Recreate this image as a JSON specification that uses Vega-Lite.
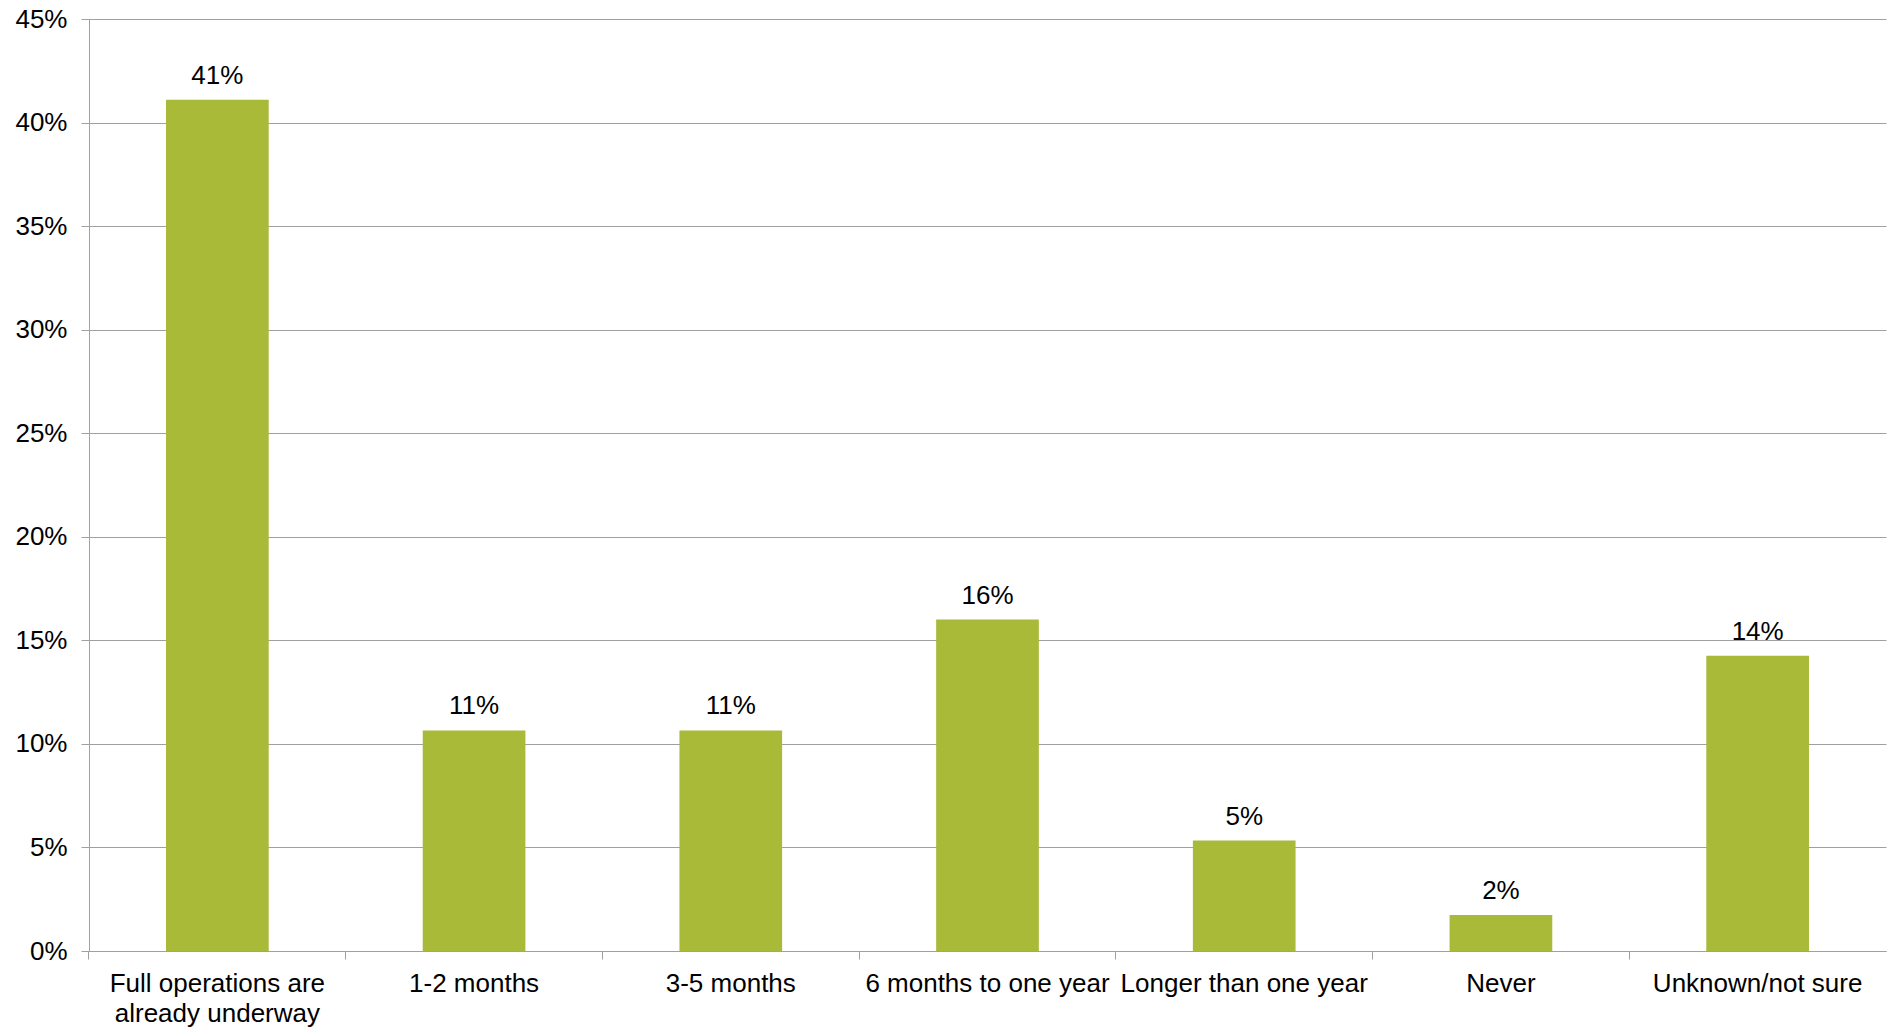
{
  "$schema": "https://vega.github.io/schema/vega-lite/v6.json",
  "width": 1797,
  "height": 932,
  "autosize": {"type": "none"},
  "padding": {"left": 89, "top": 19, "right": 4, "bottom": 78},
  "background": "white",
  "config": {"view": {"stroke": null}, "font": "Liberation Sans"},
  "data": {
    "values": [
      {"cat": "Full operations are already underway", "v": 0.411, "lbl": "41%"},
      {"cat": "1-2 months", "v": 0.1065, "lbl": "11%"},
      {"cat": "3-5 months", "v": 0.1065, "lbl": "11%"},
      {"cat": "6 months to one year", "v": 0.160, "lbl": "16%"},
      {"cat": "Longer than one year", "v": 0.0533, "lbl": "5%"},
      {"cat": "Never", "v": 0.0174, "lbl": "2%"},
      {"cat": "Unknown/not sure", "v": 0.1426, "lbl": "14%"}
    ]
  },
  "encoding": {
    "x": {
      "field": "cat", "type": "nominal", "sort": null,
      "scale": {"paddingInner": 0.6, "paddingOuter": 0.3},
      "axis": {
        "title": null, "labelAngle": 0, "labelFontSize": 26, "labelColor": "#000000",
        "labelPadding": 11, "labelLineHeight": 30, "labelFont": "Liberation Sans",
        "domainColor": "#a0a0a0", "tickColor": "#a0a0a0", "tickSize": 8,
        "bandPosition": -0.75, "labelLimit": 0,
        "labelExpr": "datum.value == 'Full operations are already underway' ? ['Full operations are', 'already underway'] : datum.value"
      }
    },
    "y": {
      "field": "v", "type": "quantitative",
      "scale": {"domain": [0, 0.45]},
      "axis": {
        "title": null, "format": ".0%", "values": [0, 0.05, 0.1, 0.15, 0.2, 0.25, 0.3, 0.35, 0.4, 0.45],
        "labelFontSize": 26, "labelColor": "#000000", "labelPadding": 14, "labelFont": "Liberation Sans",
        "gridColor": "#a0a0a0", "grid": true, "domainColor": "#a0a0a0", "tickColor": "#a0a0a0", "tickSize": 8
      }
    }
  },
  "layer": [
    {"mark": {"type": "bar", "color": "#a9b938"}},
    {
      "mark": {"type": "text", "baseline": "bottom", "dy": -11, "fontSize": 26, "color": "#000000", "font": "Liberation Sans"},
      "encoding": {"text": {"field": "lbl"}}
    }
  ]
}
